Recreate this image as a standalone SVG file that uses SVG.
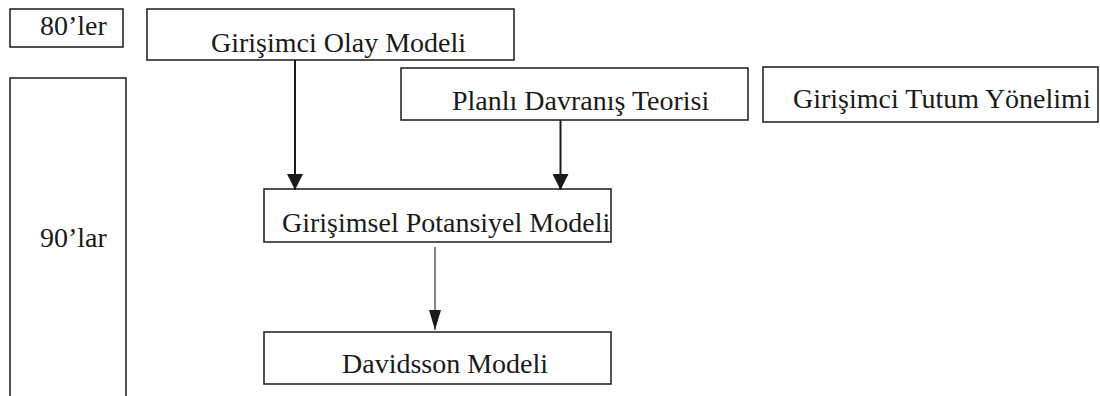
<svg xmlns="http://www.w3.org/2000/svg" width="1100" height="396" viewBox="0 0 1100 396">
<style>
.box{fill:#fff;stroke:#1a1a1a;stroke-width:1.5}
.t{font-family:"Liberation Serif","Times New Roman",serif;font-size:28px;fill:#1a1a1a}
.c{stroke:#1a1a1a;stroke-width:2;fill:none}
.thin{stroke:#333;stroke-width:1.2;fill:none}
</style>
<defs>
<marker id="ah" markerUnits="userSpaceOnUse" markerWidth="18" markerHeight="16" refX="16" refY="8" orient="auto">
<path d="M0,0 L16,8 L0,16 Z" fill="#1a1a1a"/>
</marker>
<marker id="ahs" markerUnits="userSpaceOnUse" markerWidth="22" markerHeight="14" refX="20" refY="6" orient="auto">
<path d="M0,0 L20,6 L0,12 Z" fill="#1a1a1a"/>
</marker>
</defs>
<g id="n80">
<rect class="box" x="10" y="9" width="113" height="38"/>
<text class="t" x="40" y="35">80’ler</text>
</g>
<g id="n90">
<rect class="box" x="10" y="78" width="116" height="330"/>
<text class="t" x="40" y="247">90’lar</text>
</g>
<g id="olay">
<rect class="box" x="147" y="9" width="367" height="51"/>
<text class="t" x="211" y="52">Girişimci Olay Modeli</text>
</g>
<g id="planli">
<rect class="box" x="401" y="68" width="347" height="52"/>
<text class="t" x="452" y="110">Planlı Davranış Teorisi</text>
</g>
<g id="tutum">
<rect class="box" x="763" y="67" width="335" height="55"/>
<text class="t" x="793" y="108">Girişimci Tutum Yönelimi</text>
</g>
<g id="potansiyel">
<rect class="box" x="264" y="189" width="347" height="53"/>
<text class="t" x="282" y="232">Girişimsel Potansiyel Modeli</text>
</g>
<g id="davidsson">
<rect class="box" x="264" y="332" width="347" height="52"/>
<text class="t" x="342" y="373">Davidsson Modeli</text>
</g>
<g id="connectors">
<line class="c" x1="295" y1="60" x2="295" y2="190" marker-end="url(#ah)"/>
<line class="c" x1="560.5" y1="120" x2="560.5" y2="190" marker-end="url(#ah)"/>
<line class="thin" x1="435" y1="247" x2="435" y2="330" marker-end="url(#ahs)"/>
</g>
</svg>
